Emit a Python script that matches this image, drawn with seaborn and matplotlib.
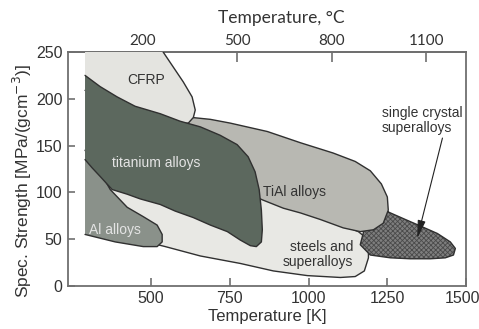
import numpy as np
import pandas as pd
import matplotlib
matplotlib.use("Agg")
import matplotlib.pyplot as plt
import matplotlib.transforms as mtransforms
import seaborn as sns

# ---- data (temperature in K, specific strength in MPa/(g cm^-3)) ----
steel_T = [497, 545, 656, 783, 888, 996, 1101, 1148, 1177, 1190, 1190, 1180, 1158, 1101, 974, 853, 751, 529, 370, 338]
steel_S = [46, 42, 32, 24, 16, 11, 9, 10, 16, 30, 44, 52, 58, 66, 81, 96, 124, 135, 108, 71]

sc_T = [1253, 1307, 1355, 1409, 1450, 1466, 1460, 1434, 1387, 1323, 1260, 1196, 1164, 1180, 1221]
sc_S = [79, 71, 64, 56, 47, 40, 33, 30, 29, 29, 30, 33, 44, 65, 87]

tial_T = [592, 630, 688, 751, 869, 974, 1078, 1148, 1196, 1231, 1250, 1253, 1237, 1206, 1164, 1110, 1037, 974, 920, 853, 783, 656, 592]
tial_S = [177, 180, 178, 174, 165, 153, 142, 133, 123, 109, 95, 81, 67, 60, 58, 62, 71, 78, 83, 92, 103, 135, 156]

cfrp_T = [290, 525, 538, 570, 602, 630, 640, 634, 618, 592, 529, 402, 290]
cfrp_S = [258, 258, 250, 234, 218, 202, 188, 180, 174, 173, 180, 193, 209]

al_T = [290, 338, 370, 424, 475, 519, 535, 535, 519, 475, 386, 290]
al_S = [145, 122, 103, 84, 74, 65, 55, 47, 42, 42, 47, 55]

ti_T = [290, 338, 392, 449, 529, 592, 656, 719, 773, 808, 830, 843, 850, 853, 850, 834, 815, 783, 742, 688, 634, 576, 529, 465, 424, 376, 338, 313, 290]
ti_S = [225, 213, 202, 192, 184, 176, 170, 161, 151, 138, 122, 103, 81, 60, 47, 42, 43, 49, 58, 65, 73, 80, 87, 93, 98, 103, 117, 126, 135]

x_ticks = [500, 750, 1000, 1250, 1500]
y_ticks = [0, 50, 100, 150, 200, 250]
top_ticks_C = [200, 500, 800, 1100]

# ---- style ----
sns.set_theme(style="ticks")
plt.rcParams["font.family"] = ["Liberation Sans", "DejaVu Sans"]
plt.rcParams["hatch.linewidth"] = 0.6
edge = "#303030"
spine_c = "#6f6f6f"
txt_c = "#333333"

fig = plt.figure(figsize=(4.79, 3.29), dpi=100)
ax = fig.add_axes([0.142, 0.131, 0.831, 0.711])

# (name, T, S, face, hatch, closed outline?)
regions = [
    ("steels", steel_T, steel_S, "#e8e8e4", None, True),
    ("single crystal", sc_T, sc_S, "#7e7e7e", "xxxxxxx", True),
    ("TiAl", tial_T, tial_S, "#b8b8b2", None, True),
    ("CFRP", cfrp_T, cfrp_S, "#e4e4e0", None, False),
    ("Al", al_T, al_S, "#8a918a", None, False),
    ("Ti", ti_T, ti_S, "#5c685e", None, False),
]
for i, (name, T, S, fc, hatch, closed) in enumerate(regions):
    ax.fill(T, S, facecolor=fc, edgecolor="#4a4a4a" if hatch else "none",
            hatch=hatch, linewidth=0.0, zorder=2 + i)
    if closed:
        df = pd.DataFrame({"T": T + [T[0]], "S": S + [S[0]]})
    else:
        df = pd.DataFrame({"T": T, "S": S})
    sns.lineplot(data=df, x="T", y="S", sort=False, estimator=None, ax=ax,
                 color=edge, linewidth=1.0, zorder=2 + i + 0.5)

ax.set_xlim(236, 1500)
ax.set_ylim(0, 250)
ax.set_xticks(x_ticks)
ax.set_yticks(y_ticks)
ax.set_xlabel("Temperature [K]", fontsize=12, color=txt_c, labelpad=2)
ax.set_ylabel("Spec. Strength [MPa/(gcm$^{-3}$)]", fontsize=12.5, color=txt_c)
ax.yaxis.set_label_coords(-0.086, 0.45)
ax.tick_params(direction="in", length=6, width=1.2, color=spine_c,
               labelsize=11.5, labelcolor=txt_c, pad=4)
ax.tick_params(axis="y", length=5)
for s in ax.spines.values():
    s.set_color(spine_c)
    s.set_linewidth(1.3)
# keep the last x tick label inside the figure
lbls = ax.get_xticklabels()
lbls[-1].set_transform(lbls[-1].get_transform() +
                       mtransforms.ScaledTranslation(-4 / 100, 0, fig.dpi_scale_trans))

sec = ax.secondary_xaxis("top", functions=(lambda k: k - 273.15, lambda c: c + 273.15))
sec.set_xticks(top_ticks_C)
sec.tick_params(direction="in", length=7, width=1.2, color=spine_c,
                labelsize=11, labelcolor=txt_c, pad=3)
for lab in sec.get_xticklabels():
    lab.set_fontfamily("Lato")
sec.spines["top"].set_color(spine_c)
sec.spines["top"].set_linewidth(1.3)
fig.text(0.587, 0.945, "Temperature, °C", fontsize=12.5, color=txt_c, family="Lato",
         ha="center", va="center")

# labels
fs = 10
ax.text(484, 220, "CFRP", fontsize=fs, color=txt_c, ha="center", va="center", zorder=20)
ax.text(516, 131, "titanium alloys", fontsize=fs, color="#e4e4e4", ha="center", va="center", zorder=20)
ax.text(304, 60, "Al alloys", fontsize=fs, color="#e4e4e4", ha="left", va="center", zorder=20)
ax.text(954, 100, "TiAl alloys", fontsize=fs, color=txt_c, ha="center", va="center", zorder=20)
ax.text(1142, 34, "steels and\nsuperalloys", fontsize=fs, color=txt_c, ha="right", va="center",
        linespacing=1.1, zorder=20)
ax.text(1232, 177, "single crystal\nsuperalloys", fontsize=fs, color=txt_c, ha="left", va="center",
        linespacing=1.1, zorder=20)
ax.annotate("", xy=(1345, 51), xytext=(1425, 158),
            arrowprops=dict(arrowstyle="-|>,head_length=0.9,head_width=0.2", color="#222222",
                            lw=0.8, shrinkA=0, shrinkB=0), zorder=21)

fig.savefig("out.png", dpi=100)
